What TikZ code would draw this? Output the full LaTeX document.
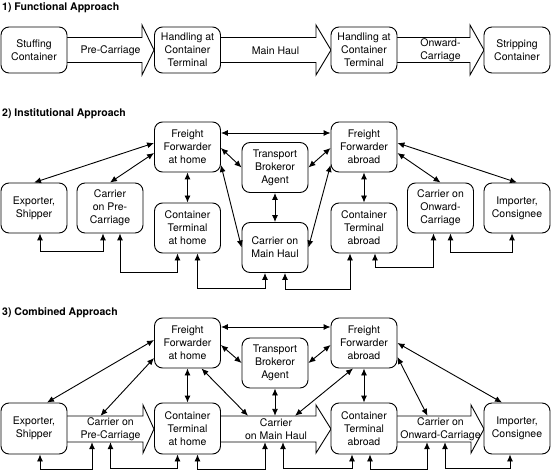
\documentclass[tikz,border=0pt]{standalone}
\usepackage{fontspec}
\setmainfont{TeX Gyre Heros}
\usetikzlibrary{arrows.meta,calc}

\begin{document}
\begin{tikzpicture}[x=1pt,y=-1pt,
  every node/.style={font=\fontsize{10.5}{13}\selectfont},
  title/.style={anchor=west,inner sep=0pt,font=\fontsize{10.5}{13}\selectfont\bfseries},
  box/.style={draw,line width=0.9pt,rounded corners=8pt,fill=white,
    minimum width=66pt,minimum height=50pt,align=center,inner sep=1pt},
  bigarr/.style={draw,line width=0.9pt,line join=miter},
  lbl/.style={align=center,inner sep=0pt,minimum height=26pt},
  dbl/.style={{Latex[length=7pt,width=6pt]}-{Latex[length=7pt,width=6pt]},line width=0.9pt}]
\useasboundingbox (0,0) rectangle (551,470);

% 1) functional approach
\node[title] (t1) at (2,8) {1) Functional Approach};
\draw[bigarr] (67,37.5) -- (142,37.5) -- (142,25) -- (154,50) -- (142,75) -- (142,62.5) -- (67,62.5);
\draw[bigarr] (220,37.5) -- (316,37.5) -- (316,25) -- (331,50) -- (316,75) -- (316,62.5) -- (220,62.5);
\draw[bigarr] (397,37.5) -- (470,37.5) -- (470,25) -- (484,50) -- (470,75) -- (470,62.5) -- (397,62.5);
\node[box,minimum height=46pt] (stuff) at (34,50) {Stuffing\\Container};
\node[box,minimum height=46pt] (htA) at (187.5,50) {Handling at\\Container\\Terminal};
\node[box,minimum height=46pt] (htB) at (364,50) {Handling at\\Container\\Terminal};
\node[box,minimum height=46pt] (strip) at (517,50) {Stripping\\Container};
\node (pre) at (110.5,51) {Pre-Carriage};
\node (main) at (275.5,51) {Main Haul};
\node[align=center] (onw) at (440.5,50) {Onward-\\Carriage};

% 2) institutional approach
\node[title] (t2) at (2,114) {2) Institutional Approach};
\node[box] (ffh) at (187.5,147) {Freight\\Forwarder\\at home};
\node[box] (ffa) at (364,147) {Freight\\Forwarder\\abroad};
\node[box] (tba) at (275,167.5) {Transport\\Brokeror\\Agent};
\node[box] (cmh) at (275,247.5) {Carrier on\\Main Haul};
\node[box] (exp) at (34,208) {Exporter,\\Shipper};
\node[box] (cpc) at (110,208) {Carrier\\on Pre-\\Carriage};
\node[box] (cth) at (187.5,228) {Container\\Terminal\\at home};
\node[box] (cta) at (364,228) {Container\\Terminal\\abroad};
\node[box] (coc) at (440.5,208) {Carrier on\\Onward-\\Carriage};
\node[box] (imp) at (517,208) {Importer,\\Consignee};

\draw[dbl] ($(ffh.east)+(0,-14)$) -- ($(ffa.west)+(0,-14)$);
\draw[dbl] ($(ffh.west)+(0,-4)$) -- (exp.north);
\draw[dbl] ($(ffh.west)+(0,6)$) -- (cpc.north);
\draw[dbl] (ffh.south) -- (cth.north);
\draw[dbl] ($(ffh.east)+(0,1)$) -- (tba.west);
\draw[dbl] ($(ffh.east)+(0,18)$) -- (cmh.west);
\draw[dbl] (tba.south) -- (cmh.north);
\draw[dbl] ($(ffa.west)+(0,1)$) -- (tba.east);
\draw[dbl] ($(ffa.west)+(0,18)$) -- (cmh.east);
\draw[dbl] (ffa.south) -- (cta.north);
\draw[dbl] ($(ffa.east)+(0,6)$) -- (coc.north);
\draw[dbl] ($(ffa.east)+(0,-4)$) -- (imp.north);
% links below
\draw[dbl] ($(exp.south)+(6,0)$) -- ++(0,18) -| ($(cpc.south)+(-7,0)$);
\draw[dbl] ($(cpc.south)+(10,0)$) -- ++(0,39) -| ($(cth.south)+(-10,0)$);
\draw[dbl] ($(cth.south)+(10,0)$) -- ++(0,35) -| ($(cmh.south)+(-10,0)$);
\draw[dbl] ($(cmh.south)+(10,0)$) -- ++(0,16) -| ($(cta.south)+(-14,0)$);
\draw[dbl] ($(cta.south)+(11,0)$) -- ++(0,14) -| ($(coc.south)+(-7,0)$);
\draw[dbl] ($(coc.south)+(10,0)$) -- ++(0,19) -| ($(imp.south)+(-5,0)$);

% 3) combined approach
\node[title] (t3) at (2,313) {3) Combined Approach};
\draw[bigarr] (67,416) -- (143,416) -- (143,405) -- (154,429) -- (143,453) -- (143,442) -- (67,442);
\draw[bigarr] (221,416) -- (316,416) -- (316,405) -- (331,429) -- (316,453) -- (316,442) -- (221,442);
\draw[bigarr] (397,416) -- (471,416) -- (471,405) -- (484,429) -- (471,453) -- (471,442) -- (397,442);
\node[box] (ffh3) at (187.5,343) {Freight\\Forwarder\\at home};
\node[box] (ffa3) at (364,343) {Freight\\Forwarder\\abroad};
\node[box] (tba3) at (275,363) {Transport\\Brokeror\\Agent};
\node[box,minimum height=51pt] (exp3) at (34,428.5) {Exporter,\\Shipper};
\node[box,minimum height=51pt] (cth3) at (187.5,428.5) {Container\\Terminal\\at home};
\node[box,minimum height=51pt] (cta3) at (364,428.5) {Container\\Terminal\\abroad};
\node[box,minimum height=51pt] (imp3) at (517,428.5) {Importer,\\Consignee};
\node[lbl] (cpc3) at (110.5,429) {Carrier on\\Pre-Carriage};
\node[lbl] (cmh3) at (276,429) {Carrier\\on Main Haul};
\node[lbl] (coc3) at (440.5,429) {Carrier on\\Onward-Carriage};

\draw[dbl] ($(ffh3.east)+(0,-16)$) -- ($(ffa3.west)+(0,-16)$);
\draw[dbl] ($(ffh3.west)+(0,-3)$) -- ($(exp3.north)+(13,0)$);
\draw[dbl] ($(ffh3.west)+(0,15)$) -- ($(cpc3.north)+(-10,0)$);
\draw[dbl] (ffh3.south) -- (cth3.north);
\draw[dbl] ($(ffh3.east)+(0,2)$) -- (tba3.west);
\draw[dbl] ($(ffh3.south)+(14,0)$) -- ($(cmh3.north)+(-28,0)$);
\draw[dbl] (tba3.south) -- (tba3.south |- cmh3.north);
\draw[dbl] ($(ffa3.west)+(0,2)$) -- (tba3.east);
\draw[dbl] ($(ffa3.south)+(-11,0)$) -- ($(cmh3.north)+(19,0)$);
\draw[dbl] (ffa3.south) -- (cta3.north);
\draw[dbl] ($(ffa3.east)+(0,14)$) -- ($(coc3.north)+(-13,0)$);
\draw[dbl] (ffa3.east) -- ($(imp3.north)+(-15,0)$);
% links below
\draw[dbl] ($(exp3.south)+(6,0)$) -- ++(0,14.5) -| ($(cpc3.south)+(-18.5,0)$);
\draw[dbl] (cpc3.south) -- ++(0,26.5) -| ($(cth3.south)+(-10,0)$);
\draw[dbl] ($(cth3.south)+(10,0)$) -- ++(0,14.5) -| ($(cmh3.south)+(-11,0)$);
\draw[dbl] ($(cmh3.south)+(7,0)$) -- ++(0,26.5) -| ($(cta3.south)+(-12,0)$);
\draw[dbl] ($(cta3.south)+(6,0)$) -- ++(0,14.5) -| ($(coc3.south)+(-13.5,0)$);
\draw[dbl] ($(coc3.south)+(4.5,0)$) -- ++(0,26.5) -| ($(imp3.south)+(-7,0)$);
\end{tikzpicture}
\end{document}
